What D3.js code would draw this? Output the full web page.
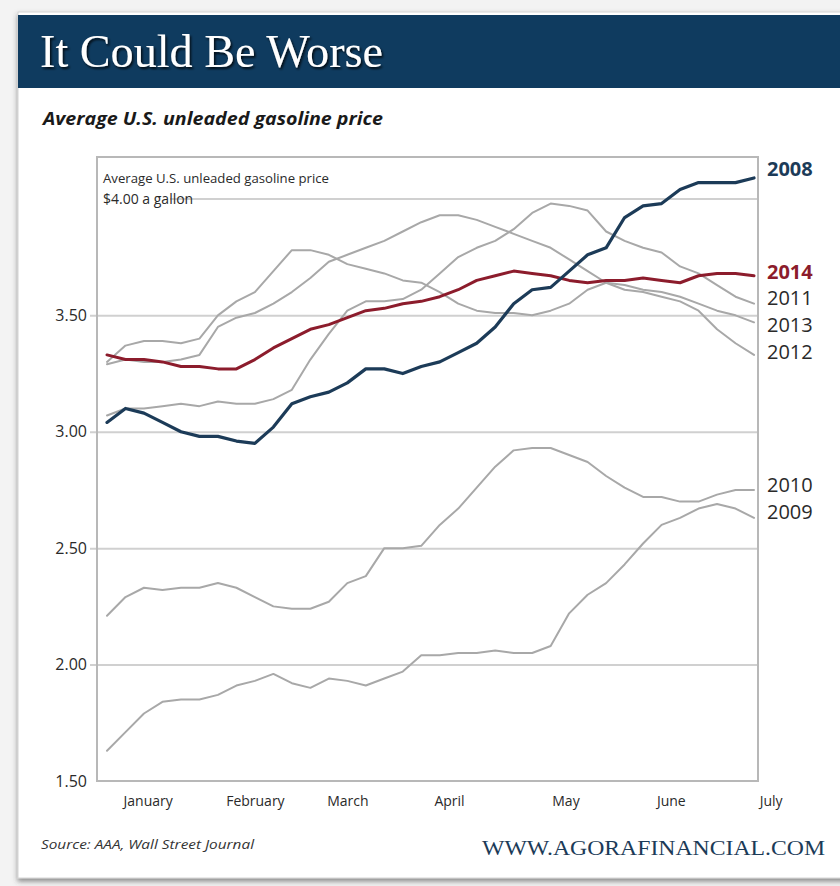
<!DOCTYPE html>
<html>
<head>
<meta charset="utf-8">
<script src="https://cdn.jsdelivr.net/npm/d3@7"></script>
<style>
  body { margin: 0; background: #fff; }
  text { font-family: "Open Sans", "Noto Sans", sans-serif; }
</style>
</head>
<body>
<svg id="chart" width="840" height="886"></svg>
<script>
// day of year (0 = Jan 1) for each sample
const days = [0, 5, 10, 15, 20, 25, 30, 35, 40, 45, 50, 55, 60, 65, 70, 75, 80, 85,
              90, 95, 100, 105, 110, 115, 120, 125, 130, 135, 140, 145, 150, 155, 160, 165, 170, 175];

const monthLabels = ["January", "February", "March", "April", "May", "June", "July"];
const monthTicks = [11, 40, 65, 92.5, 124, 152.5, 179.5];

const yTicks = [1.5, 2.0, 2.5, 3.0, 3.5];
const yTickLabels = ["1.50", "2.00", "2.50", "3.00", "3.50"];

const price2008 = [3.04, 3.10, 3.08, 3.04, 3.00, 2.98, 2.98, 2.96, 2.95, 3.02, 3.12, 3.15,
                   3.17, 3.21, 3.27, 3.27, 3.25, 3.28, 3.30, 3.34, 3.38, 3.45, 3.55, 3.61,
                   3.62, 3.69, 3.76, 3.79, 3.92, 3.97, 3.98, 4.04, 4.07, 4.07, 4.07, 4.09];
const price2009 = [1.63, 1.71, 1.79, 1.84, 1.85, 1.85, 1.87, 1.91, 1.93, 1.96, 1.92, 1.90,
                   1.94, 1.93, 1.91, 1.94, 1.97, 2.04, 2.04, 2.05, 2.05, 2.06, 2.05, 2.05,
                   2.08, 2.22, 2.30, 2.35, 2.43, 2.52, 2.60, 2.63, 2.67, 2.69, 2.67, 2.63];
const price2010 = [2.21, 2.29, 2.33, 2.32, 2.33, 2.33, 2.35, 2.33, 2.29, 2.25, 2.24, 2.24,
                   2.27, 2.35, 2.38, 2.50, 2.50, 2.51, 2.60, 2.67, 2.76, 2.85, 2.92, 2.93,
                   2.93, 2.90, 2.87, 2.81, 2.76, 2.72, 2.72, 2.70, 2.70, 2.73, 2.75, 2.75];
const price2011 = [3.07, 3.10, 3.10, 3.11, 3.12, 3.11, 3.13, 3.12, 3.12, 3.14, 3.18, 3.31,
                   3.42, 3.52, 3.56, 3.56, 3.57, 3.61, 3.68, 3.75, 3.79, 3.82, 3.87, 3.94,
                   3.98, 3.97, 3.95, 3.86, 3.82, 3.79, 3.77, 3.71, 3.68, 3.63, 3.58, 3.55];
const price2012 = [3.29, 3.31, 3.30, 3.30, 3.31, 3.33, 3.45, 3.49, 3.51, 3.55, 3.60, 3.66,
                   3.73, 3.76, 3.79, 3.82, 3.86, 3.90, 3.93, 3.93, 3.91, 3.88, 3.85, 3.82,
                   3.79, 3.74, 3.69, 3.64, 3.61, 3.60, 3.58, 3.56, 3.52, 3.44, 3.38, 3.33];
const price2013 = [3.30, 3.37, 3.39, 3.39, 3.38, 3.40, 3.50, 3.56, 3.60, 3.69, 3.78, 3.78,
                   3.76, 3.72, 3.70, 3.68, 3.65, 3.64, 3.60, 3.55, 3.52, 3.51, 3.51, 3.50,
                   3.52, 3.55, 3.61, 3.64, 3.63, 3.61, 3.60, 3.58, 3.55, 3.52, 3.50, 3.47];
const price2014 = [3.33, 3.31, 3.31, 3.30, 3.28, 3.28, 3.27, 3.27, 3.31, 3.36, 3.40, 3.44,
                   3.46, 3.49, 3.52, 3.53, 3.55, 3.56, 3.58, 3.61, 3.65, 3.67, 3.69, 3.68,
                   3.67, 3.65, 3.64, 3.65, 3.65, 3.66, 3.65, 3.64, 3.67, 3.68, 3.68, 3.67];

// drawn in this order, 2008 ends on top
const series = [
  { name: "2009", values: price2009, color: "#a8a8a8", width: 2, label: "#2a2a2a", bold: false, dy: -6.5 },
  { name: "2010", values: price2010, color: "#a8a8a8", width: 2, label: "#2a2a2a", bold: false, dy: -5.5 },
  { name: "2011", values: price2011, color: "#a8a8a8", width: 2, label: "#2a2a2a", bold: false, dy: -6 },
  { name: "2012", values: price2012, color: "#a8a8a8", width: 2, label: "#2a2a2a", bold: false, dy: -3.5 },
  { name: "2013", values: price2013, color: "#a8a8a8", width: 2, label: "#2a2a2a", bold: false, dy: 2 },
  { name: "2014", values: price2014, color: "#8c1c2c", width: 3, label: "#8c1c2c", bold: true, dy: -4 },
  { name: "2008", values: price2008, color: "#1c3b58", width: 3.2, label: "#1c3b58", bold: true, dy: -9.5 }
];

const svg = d3.select("#chart");

const defs = svg.append("defs");
const shadow = defs.append("filter").attr("id", "cardShadow")
    .attr("x", "-5%").attr("y", "-5%").attr("width", "110%").attr("height", "110%");
shadow.append("feDropShadow").attr("dx", 0).attr("dy", 3).attr("stdDeviation", 2.5)
    .attr("flood-color", "#444").attr("flood-opacity", 0.6);
const titleShadow = defs.append("filter").attr("id", "titleShadow");
titleShadow.append("feDropShadow").attr("dx", 1.5).attr("dy", 2).attr("stdDeviation", 1)
    .attr("flood-color", "#000").attr("flood-opacity", 0.8);

// page + card
svg.append("rect").attr("width", 840).attr("height", 886).attr("fill", "#f3f3f3");
svg.append("rect")
    .attr("x", 18).attr("y", 12).attr("width", 830).attr("height", 866)
    .attr("fill", "#fff").attr("stroke", "#d4d4d4")
    .attr("filter", "url(#cardShadow)");

// title bar
svg.append("rect").attr("x", 18).attr("y", 15).attr("width", 822).attr("height", 73).attr("fill", "#0f3b5f");
svg.append("text")
    .attr("x", 40).attr("y", 67)
    .style("font-family", "'Liberation Serif', 'DejaVu Serif', serif")
    .style("font-size", "47px")
    .attr("fill", "#fff")
    .attr("textLength", 343).attr("lengthAdjust", "spacingAndGlyphs")
    .attr("filter", "url(#titleShadow)")
    .text("It Could Be Worse");

svg.append("text")
    .attr("x", 43).attr("y", 125)
    .style("font-size", "17px").style("font-weight", "bold").style("font-style", "italic")
    .attr("fill", "#1a1a1a")
    .attr("textLength", 340).attr("lengthAdjust", "spacingAndGlyphs")
    .text("Average U.S. unleaded gasoline price");

// scales
const plot = { left: 97, right: 758, top: 157, bottom: 781 };
const x = d3.scaleLinear().domain([0, 175]).range([107, 754]);
const y = d3.scaleLinear().domain([1.5, 4.18]).range([plot.bottom, plot.top]);

// gridlines + y labels
const yAxis = d3.axisLeft(y)
    .tickValues(yTicks)
    .tickFormat((d, i) => yTickLabels[i])
    .tickSize(-(plot.right - 90))
    .tickPadding(3);
const gy = svg.append("g").attr("transform", "translate(90,0)").call(yAxis);
gy.select(".domain").remove();
gy.selectAll(".tick line").attr("stroke", "#d0d0d0").attr("stroke-width", 2)
    .filter(d => d === 1.5).remove();
gy.selectAll(".tick text").attr("fill", "#2a2a2a").style("font-size", "16px");

// $4.00 line with its inline label
svg.append("line")
    .attr("x1", 170).attr("x2", plot.right)
    .attr("y1", y(4)).attr("y2", y(4))
    .attr("stroke", "#d0d0d0").attr("stroke-width", 2);

// plot frame
svg.append("rect")
    .attr("x", plot.left).attr("y", plot.top)
    .attr("width", plot.right - plot.left).attr("height", plot.bottom - plot.top)
    .attr("fill", "none").attr("stroke", "#b8b8b8").attr("stroke-width", 2);

svg.append("text").attr("x", 103).attr("y", 183)
    .style("font-size", "13px").attr("fill", "#2a2a2a")
    .attr("textLength", 226).attr("lengthAdjust", "spacingAndGlyphs")
    .text("Average U.S. unleaded gasoline price");
svg.append("text").attr("x", 103).attr("y", y(4) + 5)
    .style("font-size", "14px").attr("fill", "#2a2a2a")
    .text("$4.00 a gallon");

// month labels
const xAxis = d3.axisBottom(x)
    .tickValues(monthTicks)
    .tickFormat((d, i) => monthLabels[i])
    .tickSize(0)
    .tickPadding(15);
const gx = svg.append("g").attr("transform", `translate(0,${plot.bottom})`).call(xAxis);
gx.select(".domain").remove();
gx.selectAll(".tick text").attr("fill", "#2a2a2a").style("font-size", "14px");

// lines
const line = d3.line()
    .x((d, i) => x(days[i]))
    .y(d => y(d));

svg.append("g")
  .selectAll("path")
  .data(series)
  .join("path")
    .attr("d", d => line(d.values))
    .attr("fill", "none")
    .attr("stroke", d => d.color)
    .attr("stroke-width", d => d.width)
    .attr("stroke-linejoin", "round")
    .attr("stroke-linecap", "round");

// year labels at line ends
svg.append("g")
  .selectAll("text")
  .data(series)
  .join("text")
    .attr("x", 767)
    .attr("y", d => y(d.values[d.values.length - 1]) + d.dy)
    .attr("dominant-baseline", "central")
    .style("font-size", "20px")
    .style("font-weight", d => d.bold ? "bold" : "normal")
    .attr("fill", d => d.label)
    .text(d => d.name);

// footer
svg.append("text").attr("x", 41).attr("y", 849)
    .style("font-size", "12px").style("font-style", "italic").attr("fill", "#333")
    .attr("textLength", 213).attr("lengthAdjust", "spacingAndGlyphs")
    .text("Source: AAA, Wall Street Journal");
svg.append("text").attr("x", 482).attr("y", 855)
    .style("font-family", "'Liberation Serif', 'DejaVu Serif', serif")
    .style("font-size", "22px").attr("fill", "#1c3b58")
    .attr("textLength", 343).attr("lengthAdjust", "spacingAndGlyphs")
    .text("WWW.AGORAFINANCIAL.COM");
</script>
</body>
</html>
